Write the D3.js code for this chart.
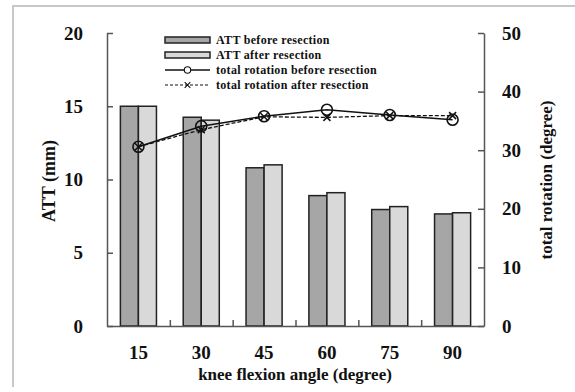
<!DOCTYPE html>
<html>
<head>
<meta charset="utf-8">
<script src="https://cdn.jsdelivr.net/npm/d3@7"></script>
<style>
  body { margin: 0; background: #fff; }
  svg text { font-family: "Liberation Serif", "Times New Roman", serif; font-weight: bold; fill: #111; }
</style>
</head>
<body>
<div id="chart"></div>
<script>
// Data
let angles = ["15", "30", "45", "60", "75", "90"];
let attBefore = [15.0, 14.25, 10.8, 8.9, 7.95, 7.65];
let attAfter = [15.0, 14.05, 11.0, 9.1, 8.15, 7.73];
let rotBefore = [30.6, 34.1, 35.8, 36.9, 36.0, 35.2];
let rotAfter = [30.6, 33.5, 35.7, 35.6, 35.9, 35.9];
let leftTicks = [0, 5, 10, 15, 20];
let rightTicks = [0, 10, 20, 30, 40, 50];
let legendNames = ["ATT before resection", "ATT after resection",
    "total rotation before resection", "total rotation after resection"];

let svgWidth = 575, svgHeight = 392;
let margin = { top: 33, right: 91, bottom: 66, left: 107 };
let chartWidth = svgWidth - margin.left - margin.right;
let chartHeight = svgHeight - margin.top - margin.bottom;

let svg = d3.select('#chart')
            .append('svg')
            .attr('width', svgWidth)
            .attr('height', svgHeight);

// Light frame around the picture (top and left only visible)
svg.append('path')
    .attr('d', 'M13,387 L13,6 L575,6')
    .attr('fill', 'none')
    .attr('stroke', '#c8c8c8')
    .attr('stroke-width', 2);

let chartGrp = svg.append('g')
            .attr('transform', `translate(${margin.left}, ${margin.top})`);

// Scales
let x0 = d3.scaleBand().domain(angles).range([0, chartWidth]);
let bw = x0.bandwidth();
let x1 = d3.scaleBand().domain(["before", "after"]).range([bw * 0.213, bw * 0.787]);
let yLeft = d3.scaleLinear().domain([0, 20]).range([chartHeight, 0]);
let yRight = d3.scaleLinear().domain([0, 50]).range([chartHeight, 0]);

let axisColor = '#555';
let serif = '"Liberation Serif", "Times New Roman", serif';

// Bars
let barColors = { before: '#a6a6a6', after: '#d9d9d9' };
let barData = angles.map((a, i) => ({ a: a, before: attBefore[i], after: attAfter[i] }));

let grp = chartGrp.selectAll('.grp')
    .data(barData)
    .enter()
    .append('g')
    .attr('transform', d => `translate(${x0(d.a)}, 0)`);

grp.selectAll('rect')
    .data(d => ["before", "after"].map(k => ({ k: k, v: d[k] })))
    .enter()
    .append('rect')
    .attr('x', d => x1(d.k))
    .attr('y', d => yLeft(d.v))
    .attr('width', x1.bandwidth())
    .attr('height', d => chartHeight - yLeft(d.v))
    .attr('fill', d => barColors[d.k])
    .attr('stroke', '#222')
    .attr('stroke-width', 1.5);

// Left axis (ticks pointing inward)
let leftAxis = chartGrp.append('g')
    .call(d3.axisLeft(yLeft).tickValues(leftTicks).tickSizeInner(-6).tickSizeOuter(0).tickPadding(24));

// Right axis
let rightAxis = chartGrp.append('g')
    .attr('transform', `translate(${chartWidth}, 0)`)
    .call(d3.axisRight(yRight).tickValues(rightTicks).tickSizeInner(-6).tickSizeOuter(0).tickPadding(18));

// Bottom axis: boundary ticks between categories
let xLin = d3.scaleLinear().domain([0, angles.length]).range([0, chartWidth]);
let bottomAxis = chartGrp.append('g')
    .attr('transform', `translate(0, ${chartHeight})`)
    .call(d3.axisBottom(xLin).tickValues(d3.range(1, angles.length)).tickSizeInner(-6).tickSizeOuter(0).tickFormat(''));

// Category labels
let catAxis = chartGrp.append('g')
    .attr('transform', `translate(0, ${chartHeight})`)
    .call(d3.axisBottom(x0).tickSize(0).tickPadding(20));
catAxis.select('.domain').remove();

[leftAxis, rightAxis, bottomAxis].forEach(ax => {
    ax.selectAll('.domain, line').attr('stroke', axisColor).attr('stroke-width', 1.5);
});
[leftAxis, rightAxis, catAxis].forEach(ax => {
    ax.attr('font-family', serif).attr('font-size', 19).attr('font-weight', 'bold');
    ax.selectAll('text').attr('fill', '#111');
});

// Lines for total rotation
let cx = i => x0(angles[i]) + bw / 2;
let lineGen = d3.line().x((d, i) => cx(i)).y(d => yRight(d));

chartGrp.append('path')
    .datum(rotAfter)
    .attr('d', lineGen)
    .attr('fill', 'none')
    .attr('stroke', '#111')
    .attr('stroke-width', 1.3)
    .attr('stroke-dasharray', '4,2');

chartGrp.append('path')
    .datum(rotBefore)
    .attr('d', lineGen)
    .attr('fill', 'none')
    .attr('stroke', '#111')
    .attr('stroke-width', 1.6);

function xMark(sel, s) {
    sel.attr('d', `M${-s},${-s}L${s},${s}M${-s},${s}L${s},${-s}`)
        .attr('fill', 'none')
        .attr('stroke', '#111')
        .attr('stroke-width', 1.5);
}

chartGrp.selectAll('.xm')
    .data(rotAfter)
    .enter()
    .append('path')
    .attr('transform', (d, i) => `translate(${cx(i)}, ${yRight(d)})`)
    .call(xMark, 3.5);

chartGrp.selectAll('.cm')
    .data(rotBefore)
    .enter()
    .append('circle')
    .attr('cx', (d, i) => cx(i))
    .attr('cy', d => yRight(d))
    .attr('r', 5.5)
    .attr('fill', 'none')
    .attr('stroke', '#111')
    .attr('stroke-width', 1.6);

// Axis titles
svg.append('text')
    .attr('transform', 'translate(55, 181) rotate(-90)')
    .attr('text-anchor', 'middle')
    .attr('font-size', 18)
    .text('ATT (mm)');

svg.append('text')
    .attr('transform', 'translate(552, 180) rotate(-90)')
    .attr('text-anchor', 'middle')
    .attr('font-size', 17)
    .text('total rotation (degree)');

svg.append('text')
    .attr('x', 295)
    .attr('y', 380)
    .attr('text-anchor', 'middle')
    .attr('font-size', 17)
    .text('knee flexion angle (degree)');

// Legend
let legend = svg.append('g').attr('transform', 'translate(165, 40)');
let rowH = 15;

legendNames.forEach((name, i) => {
    let row = legend.append('g').attr('transform', `translate(0, ${i * rowH})`);
    if (i < 2) {
        row.append('rect')
            .attr('x', 0).attr('y', -3)
            .attr('width', 45).attr('height', 6)
            .attr('fill', i === 0 ? barColors.before : barColors.after)
            .attr('stroke', '#222')
            .attr('stroke-width', 1.5);
    } else {
        row.append('line')
            .attr('x1', 0).attr('x2', 45)
            .attr('stroke', '#111')
            .attr('stroke-width', i === 2 ? 1.3 : 1.1)
            .attr('stroke-dasharray', i === 2 ? null : '3,2');
        if (i === 2) {
            row.append('circle')
                .attr('cx', 22.5).attr('r', 3.2)
                .attr('fill', '#fff')
                .attr('stroke', '#111')
                .attr('stroke-width', 1.1);
        } else {
            row.append('path')
                .attr('transform', 'translate(22.5, 0)')
                .call(xMark, 2.8)
                .attr('stroke-width', 1.1);
        }
    }
    row.append('text')
        .attr('x', 51)
        .attr('y', 4)
        .attr('font-size', 12)
        .attr('letter-spacing', 0.3)
        .text(name);
});
</script>
</body>
</html>
